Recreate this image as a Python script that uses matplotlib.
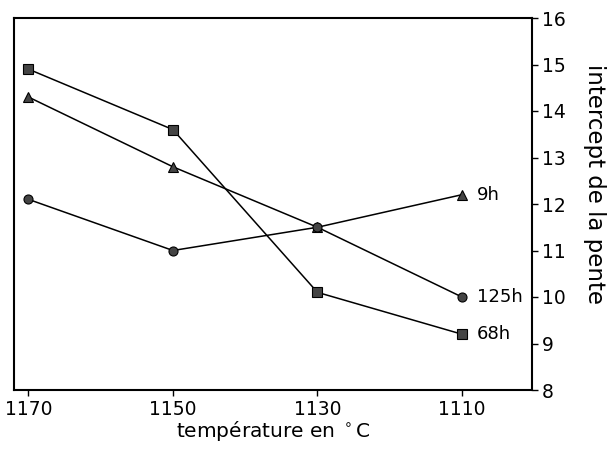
import matplotlib
matplotlib.use("Agg")
import matplotlib.pyplot as plt

temps = [1170, 1150, 1130, 1110]
h68 = [14.9, 13.6, 10.1, 9.2]
h9 = [14.3, 12.8, 11.5, 12.2]
h125 = [12.1, 11.0, 11.5, 10.0]

fig = plt.figure(figsize=(6.12, 4.5), dpi=100)
ax = fig.add_axes([14 / 612, 1 - 390 / 450, 518 / 612, 372 / 450])

mk = dict(color="black", lw=1.1, markersize=6.5, markerfacecolor="#444444",
          markeredgecolor="black", markeredgewidth=0.8)
ax.plot(temps, h68, marker="s", **mk)
ax.plot(temps, h9, marker="^", **mk)
ax.plot(temps, h125, marker="o", **mk)

ax.text(1107.9, h9[-1], "9h", fontsize=13, va="center", ha="left")
ax.text(1107.9, h125[-1], "125h", fontsize=13, va="center", ha="left")
ax.text(1107.9, h68[-1], "68h", fontsize=13, va="center", ha="left")

ax.set_xlim(1172, 1100.3)
ax.set_ylim(8, 16)
ax.set_xticks(temps)
ax.set_yticks(range(8, 17))
ax.yaxis.tick_right()
ax.yaxis.set_label_position("right")
ax.tick_params(axis="both", labelsize=13.5, length=4, width=1, direction="out")
ax.tick_params(axis="y", pad=3)
ax.tick_params(axis="x", pad=3)

ax.set_xlabel("température en $^\\circ$C", fontsize=14.5, labelpad=0)
ax.set_ylabel("intercept de la pente", fontsize=16.5, rotation=270, va="center")
ax.yaxis.set_label_coords(1.12, 0.555)

for s in ax.spines.values():
    s.set_linewidth(1.5)

fig.savefig("out.png", dpi=100)
